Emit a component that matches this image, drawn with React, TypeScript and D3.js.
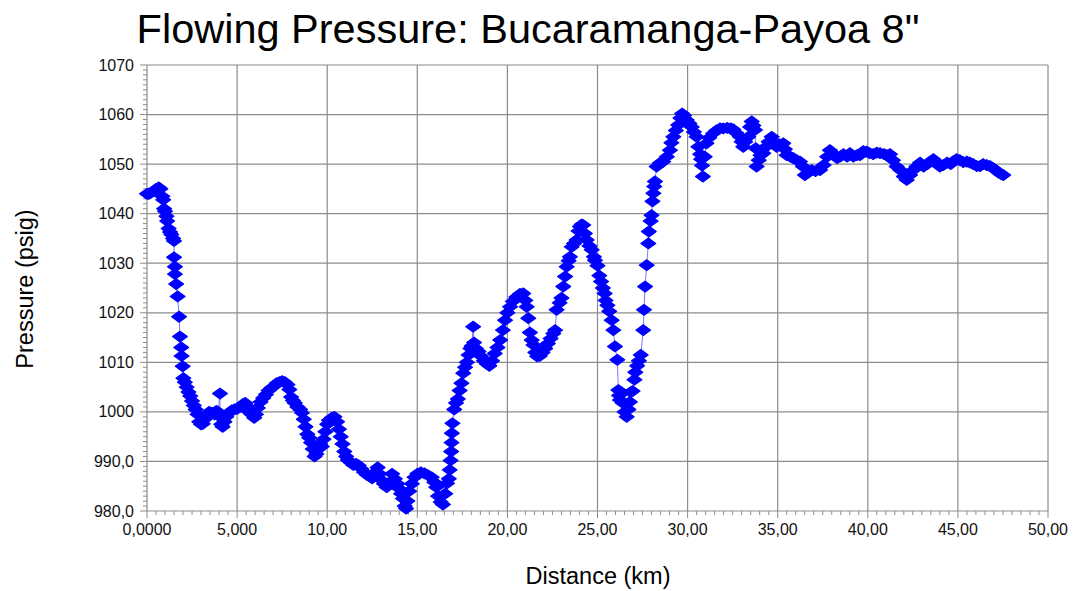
import React from "react";
import * as d3 from "d3";

const distance: number[] = [
  0.0, 0.1, 0.2, 0.35, 0.5, 0.65, 0.75, 0.85, 0.9, 0.95, 1.0, 1.08, 1.12, 1.2, 1.28, 1.35, 1.45, 1.5,
  1.5, 1.55, 1.55, 1.62, 1.7, 1.78, 1.83, 1.9, 1.92, 1.98, 2.02, 2.1, 2.2, 2.3, 2.4, 2.5, 2.6, 2.7,
  2.8, 2.9, 3.0, 3.1, 3.2, 3.3, 3.45, 3.6, 3.75, 3.85, 3.95, 4.05, 4.05, 4.12, 4.2, 4.3, 4.4, 4.55,
  4.7, 4.85, 5.0, 5.15, 5.3, 5.45, 5.55, 5.65, 5.8, 5.95, 6.05, 6.15, 6.3, 6.45, 6.6, 6.75, 6.9, 7.05,
  7.2, 7.35, 7.5, 7.65, 7.8, 7.9, 8.0, 8.1, 8.2, 8.35, 8.5, 8.6, 8.7, 8.8, 8.9, 9.0, 9.1, 9.2, 9.3,
  9.4, 9.5, 9.6, 9.7, 9.8, 9.9, 10.0, 10.1, 10.25, 10.4, 10.55, 10.65, 10.75, 10.85, 10.95, 11.05,
  11.15, 11.3, 11.45, 11.6, 11.75, 11.9, 12.05, 12.2, 12.35, 12.5, 12.65, 12.8, 12.9, 13.0, 13.15,
  13.3, 13.45, 13.6, 13.75, 13.9, 14.0, 14.1, 14.2, 14.3, 14.38, 14.45, 14.55, 14.7, 14.85, 15.0,
  15.2, 15.4, 15.6, 15.8, 15.95, 16.05, 16.15, 16.3, 16.42, 16.55, 16.65, 16.75, 16.8, 16.85, 16.88,
  16.9, 16.92, 16.95, 17.05, 17.15, 17.25, 17.35, 17.45, 17.55, 17.65, 17.75, 17.85, 17.95, 18.02,
  18.1, 18.15, 18.25, 18.4, 18.55, 18.7, 18.85, 19.0, 19.15, 19.3, 19.45, 19.6, 19.75, 19.87, 20.0,
  20.15, 20.3, 20.5, 20.7, 20.88, 21.0, 21.07, 21.16, 21.25, 21.35, 21.45, 21.55, 21.65, 21.8, 21.95,
  22.1, 22.25, 22.4, 22.55, 22.65, 22.73, 22.9, 23.0, 23.1, 23.2, 23.29, 23.4, 23.47, 23.57, 23.7,
  23.84, 23.95, 24.03, 24.12, 24.21, 24.3, 24.4, 24.55, 24.68, 24.8, 24.86, 25.0, 25.1, 25.2, 25.3,
  25.4, 25.45, 25.55, 25.65, 25.79, 25.88, 25.97, 26.1, 26.16, 26.2, 26.25, 26.3, 26.4, 26.5, 26.62,
  26.72, 26.8, 26.85, 26.95, 27.05, 27.1, 27.2, 27.3, 27.4, 27.54, 27.58, 27.64, 27.73, 27.82, 27.85,
  27.95, 28.0, 28.05, 28.1, 28.15, 28.19, 28.28, 28.45, 28.65, 28.85, 29.02, 29.1, 29.21, 29.35,
  29.48, 29.6, 29.7, 29.8, 29.95, 30.1, 30.23, 30.35, 30.5, 30.6, 30.7, 30.75, 30.8, 30.85, 30.95,
  31.05, 31.2, 31.42, 31.6, 31.8, 31.98, 32.2, 32.4, 32.54, 32.7, 32.9, 33.0, 33.09, 33.2, 33.37,
  33.47, 33.56, 33.65, 33.74, 33.78, 33.83, 33.95, 34.05, 34.2, 34.35, 34.5, 34.67, 34.8, 34.94,
  35.1, 35.31, 35.4, 35.5, 35.7, 35.87, 36.05, 36.24, 36.4, 36.51, 36.7, 36.89, 37.1, 37.35, 37.55,
  37.75, 37.9, 38.1, 38.3, 38.46, 38.65, 38.85, 39.01, 39.2, 39.4, 39.57, 39.75, 39.94, 40.1, 40.3,
  40.5, 40.68, 40.9, 41.05, 41.23, 41.4, 41.6, 41.8, 42.0, 42.16, 42.35, 42.53, 42.7, 42.9, 43.1,
  43.3, 43.45, 43.64, 43.85, 44.0, 44.19, 44.4, 44.6, 44.75, 44.93, 45.1, 45.3, 45.5, 45.67, 45.85,
  46.05, 46.23, 46.4, 46.6, 46.78, 46.95, 47.1, 47.25, 47.4, 47.52,
];

const pressure: number[] = [
  1044.0, 1044.0, 1044.2, 1044.5, 1045.0, 1045.3, 1045.0, 1043.5, 1042.8, 1041.0, 1040.5, 1039.5,
  1038.5, 1037.0, 1036.3, 1035.8, 1035.0, 1034.5, 1031.2, 1029.3, 1027.8, 1025.8, 1023.3, 1019.2,
  1015.2, 1013.0, 1011.3, 1009.2, 1006.8, 1006.0, 1005.0, 1004.0, 1003.2, 1002.2, 1001.3, 1000.5,
  999.5, 998.0, 997.5, 997.6, 998.5, 999.3, 1000.0, 999.8, 999.5, 1000.2, 1000.0, 1003.7, 999.0,
  997.5, 997.0, 998.0, 999.0, 999.8, 1000.3, 1000.5, 1000.6, 1001.0, 1001.5, 1001.8, 1001.2, 1000.0,
  999.5, 998.8, 999.5, 1000.8, 1002.0, 1002.8, 1003.5, 1004.3, 1004.8, 1005.2, 1005.8, 1006.0, 1006.2,
  1006.0, 1005.5, 1004.5, 1003.0, 1002.3, 1001.8, 1001.0, 1000.5, 999.8, 998.5, 997.0, 995.5, 994.8,
  993.8, 992.5, 991.0, 991.5, 992.5, 993.5, 993.0, 994.5, 996.0, 997.5, 998.3, 998.8, 999.0, 998.0,
  996.5, 995.0, 993.5, 992.0, 991.0, 990.3, 989.8, 989.3, 989.5, 989.2, 988.5, 987.8, 987.3, 987.0,
  986.6, 987.8, 988.8, 987.5, 986.3, 985.5, 984.8, 985.5, 987.5, 986.5, 985.5, 984.5, 983.5, 982.5,
  981.0, 980.5, 982.0, 984.0, 985.5, 986.8, 987.5, 987.8, 987.6, 987.2, 986.8, 985.8, 984.8, 983.0,
  981.8, 981.3, 983.5, 985.6, 986.5, 988.3, 990.2, 992.0, 993.8, 995.7, 997.7, 1000.5, 1001.8,
  1002.6, 1004.3, 1005.8, 1007.8, 1009.0, 1010.0, 1011.5, 1012.8, 1013.3, 1017.2, 1014.0, 1012.8,
  1012.2, 1011.2, 1010.3, 1009.7, 1009.3, 1010.3, 1011.8, 1013.0, 1014.5, 1016.5, 1018.5, 1020.0,
  1021.2, 1022.3, 1023.2, 1023.8, 1023.9, 1022.5, 1021.2, 1018.9, 1016.0, 1014.5, 1013.5, 1012.0,
  1011.2, 1011.3, 1012.0, 1012.8, 1013.8, 1014.8, 1015.8, 1016.5, 1020.6, 1022.0, 1023.0, 1025.3,
  1027.3, 1029.3, 1030.5, 1031.3, 1033.3, 1034.0, 1034.7, 1036.5, 1037.4, 1037.8, 1037.7, 1036.0,
  1034.7, 1033.5, 1032.7, 1031.3, 1030.6, 1029.5, 1027.5, 1026.3, 1025.0, 1023.9, 1022.5, 1021.5,
  1020.3, 1018.5, 1016.5, 1013.2, 1010.5, 1004.4, 1003.3, 1002.4, 1004.0, 1001.8, 1000.0, 999.0,
  1000.5, 1002.0, 1004.0, 1004.2, 1006.5, 1008.0, 1009.3, 1010.3, 1011.5, 1016.5, 1020.6, 1025.3,
  1029.6, 1034.0, 1036.4, 1038.5, 1039.7, 1042.5, 1044.1, 1045.5, 1046.5, 1049.5, 1050.2, 1050.5,
  1051.5, 1052.8, 1054.3, 1055.5, 1056.8, 1057.9, 1059.3, 1060.2, 1059.8, 1058.9, 1058.2, 1057.5,
  1056.5, 1055.5, 1053.5, 1052.0, 1051.0, 1049.7, 1047.5, 1051.5, 1054.2, 1055.3, 1056.2, 1056.8,
  1057.2, 1057.2, 1057.3, 1057.2, 1057.0, 1056.3, 1055.5, 1054.5, 1053.5, 1054.5, 1055.5, 1057.5,
  1058.6, 1057.8, 1056.9, 1053.2, 1049.5, 1050.8, 1051.8, 1052.2, 1053.5, 1054.5, 1055.5, 1054.5,
  1053.5, 1054.0, 1054.2, 1053.0, 1051.8, 1051.5, 1051.2, 1050.8, 1050.5, 1049.5, 1047.8, 1048.3,
  1048.8, 1048.6, 1048.8, 1049.8, 1051.5, 1052.8, 1052.0, 1051.2, 1051.5, 1052.0, 1051.5, 1052.2,
  1051.5, 1051.8, 1051.8, 1052.6, 1052.5, 1052.2, 1052.0, 1052.3, 1052.2, 1052.0, 1051.8, 1052.0,
  1050.8, 1049.5, 1048.8, 1047.5, 1046.8, 1047.8, 1048.8, 1049.5, 1050.3, 1049.5, 1050.0, 1050.5,
  1051.0, 1050.3, 1049.5, 1049.8, 1050.3, 1050.0, 1050.6, 1051.0, 1050.8, 1050.4, 1050.5, 1050.3,
  1050.0, 1049.6, 1049.6, 1050.0, 1049.8, 1049.6, 1049.2, 1048.8, 1048.3, 1048.0, 1047.8,
];

const xTickValues: number[] = [0, 5, 10, 15, 20, 25, 30, 35, 40, 45, 50];
const xTickLabels: string[] = ["0,0000", "5,000", "10,00", "15,00", "20,00", "25,00", "30,00", "35,00", "40,00", "45,00", "50,00"];
const yTickValues: number[] = [980, 990, 1000, 1010, 1020, 1030, 1040, 1050, 1060, 1070];
const yTickLabels: string[] = ["980,0", "990,0", "1000", "1010", "1020", "1030", "1040", "1050", "1060", "1070"];

const titleText = 'Flowing Pressure: Bucaramanga-Payoa 8"';
const xAxisTitle = "Distance (km)";
const yAxisTitle = "Pressure (psig)";

const W = 1081;
const H = 591;
const M = { left: 147, right: 1048, top: 65, bottom: 511 };
const FONT = "'Liberation Sans', Arial, Helvetica, sans-serif";

export default function App() {
  const x = d3.scaleLinear().domain([0, 50]).range([M.left, M.right]);
  const y = d3.scaleLinear().domain([980, 1070]).range([M.bottom, M.top]);
  const pts = distance.map((d, i) => [d, pressure[i]] as [number, number]);
  const line = d3
    .line<[number, number]>()
    .x((p) => x(p[0]))
    .y((p) => y(p[1]));
  const xMinor = d3.range(0, 50.001, 0.5);
  const yMinor = d3.range(980, 1070.001, 1);
  const diamond = "M0,-5.4L7.4,0L0,5.4L-7.4,0Z";

  return (
    <svg width={W} height={H} style={{ display: "block", position: "absolute", left: 0, top: 0 }} fontFamily={FONT}>
      <rect x={0} y={0} width={W} height={H} fill="#ffffff" />
      <text x={528} y={43} textAnchor="middle" fontSize={41.5} fill="#000">
        {titleText}
      </text>
      {/* grid */}
      {xTickValues.slice(1).map((v) => (
        <line key={"gx" + v} x1={x(v)} x2={x(v)} y1={M.top} y2={M.bottom} stroke="#8c8c8c" strokeWidth={1.2} />
      ))}
      {yTickValues.slice(1).map((v) => (
        <line key={"gy" + v} x1={M.left} x2={M.right} y1={y(v)} y2={y(v)} stroke="#8c8c8c" strokeWidth={1.2} />
      ))}
      {/* minor ticks */}
      {xMinor.map((v) => (
        <line key={"mx" + v} x1={x(v)} x2={x(v)} y1={M.bottom} y2={M.bottom + (v % 5 === 0 ? 7 : 4)} stroke="#8c8c8c" strokeWidth={1} />
      ))}
      {yMinor.map((v) => (
        <line key={"my" + v} x1={M.left - (v % 10 === 0 ? 7 : 4)} x2={M.left} y1={y(v)} y2={y(v)} stroke="#8c8c8c" strokeWidth={1} />
      ))}
      {/* axes */}
      <line x1={M.left} x2={M.left} y1={M.top} y2={M.bottom} stroke="#8c8c8c" strokeWidth={1.2} />
      <line x1={M.left} x2={M.right} y1={M.bottom} y2={M.bottom} stroke="#8c8c8c" strokeWidth={1.2} />
      {/* tick labels */}
      {xTickValues.map((v, i) => (
        <text key={"xl" + v} x={x(v)} y={M.bottom + 24} textAnchor="middle" fontSize={16} fill="#111">
          {xTickLabels[i]}
        </text>
      ))}
      {yTickValues.map((v, i) => (
        <text key={"yl" + v} x={M.left - 13} y={y(v) + 5.5} textAnchor="end" fontSize={16} fill="#111">
          {yTickLabels[i]}
        </text>
      ))}
      {/* axis titles */}
      <text x={598} y={584} textAnchor="middle" fontSize={23.5} fill="#000">
        {xAxisTitle}
      </text>
      <text transform="translate(33,289) rotate(-90)" textAnchor="middle" fontSize={23.5} fill="#000">
        {yAxisTitle}
      </text>
      {/* series */}
      <path d={line(pts) || ""} fill="none" stroke="#7a7aff" strokeWidth={1} />
      {pts.map((p, i) => (
        <path key={"p" + i} d={diamond} transform={`translate(${x(p[0])},${y(p[1])})`} fill="#0000ff" stroke="#0000ff" strokeWidth={1.2} strokeLinejoin="round" />
      ))}
    </svg>
  );
}
